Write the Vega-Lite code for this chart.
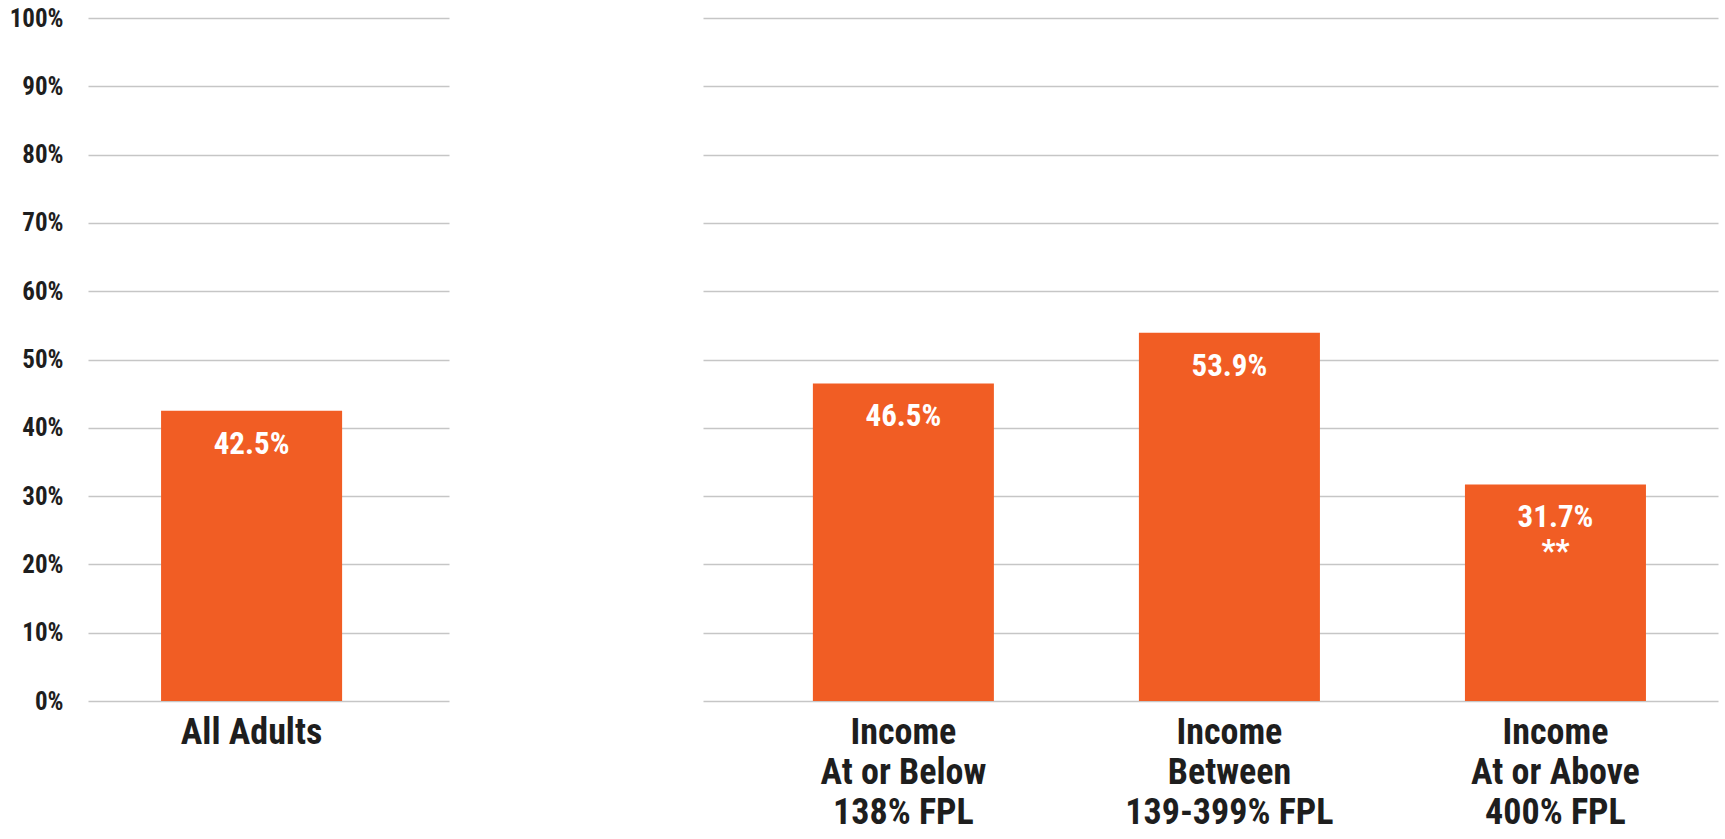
{
  "$schema": "https://vega.github.io/schema/vega-lite/v6.json",
  "padding": {"top": 6, "left": 5, "right": 2, "bottom": 4},
  "background": "white",
  "config": {
    "view": {"stroke": null},
    "font": "Liberation Sans Narrow, Arial Narrow, Roboto Condensed, Liberation Sans, sans-serif"
  },
  "spacing": 254,
  "hconcat": [
    {
      "width": 361,
      "height": 683,
      "data": {"values": [
        {"group": "All Adults", "value": 42.5, "label": "42.5%"}
      ]},
      "encoding": {
        "x": {"field": "group", "type": "nominal", "sort": null,
          "scale": {"paddingInner": 0, "paddingOuter": 0.497, "align": 0.406},
          "axis": {"title": null, "labelAngle": 0, "domain": false, "ticks": false,
            "labelFontSize": 36, "labelFontWeight": "bold", "labelColor": "#1e1e1e",
            "labelPadding": 14, "labelBaseline": "top", "labelLineHeight": 40, "labelLimit": 600,
            "labelExpr": "split(datum.label, '|')"}},
        "y": {"field": "value", "type": "quantitative",
          "scale": {"domain": [0, 100], "nice": false},
          "axis": {"title": null, "values": [0,10,20,30,40,50,60,70,80,90,100],
            "labelExpr": "datum.value + '%'", "grid": true, "gridColor": "#c6c6c6", "gridWidth": 1.5,
            "domain": false, "ticks": false, "labelFontSize": 25, "labelFontWeight": "bold",
            "labelColor": "#1e1e1e", "labelPadding": 25, "minExtent": 83, "maxExtent": 83}}
      },
      "layer": [
        {"mark": {"type": "bar", "color": "#F15D24"}},
        {"mark": {"type": "text", "color": "white", "fontSize": 31, "fontWeight": "bold",
          "baseline": "alphabetic", "dy": 43, "lineBreak": "|", "lineHeight": 34},
         "encoding": {"text": {"field": "label", "type": "nominal"}}}
      ]
    },
    {
      "width": 1015,
      "height": 683,
      "data": {"values": [
        {"group": "Income|At or Below|138% FPL", "value": 46.5, "label": "46.5%"},
        {"group": "Income|Between|139-399% FPL", "value": 53.9, "label": "53.9%"},
        {"group": "Income|At or Above|400% FPL", "value": 31.7, "label": "31.7%|**"}
      ]},
      "encoding": {
        "x": {"field": "group", "type": "nominal", "sort": null,
          "scale": {"paddingInner": 0.4448, "paddingOuter": 0.279, "align": 0.604},
          "axis": {"title": null, "labelAngle": 0, "domain": false, "ticks": false,
            "labelFontSize": 36, "labelFontWeight": "bold", "labelColor": "#1e1e1e",
            "labelPadding": 14, "labelBaseline": "top", "labelLineHeight": 40, "labelLimit": 600,
            "labelExpr": "split(datum.label, '|')"}},
        "y": {"field": "value", "type": "quantitative",
          "scale": {"domain": [0, 100], "nice": false},
          "axis": {"title": null, "values": [0,10,20,30,40,50,60,70,80,90,100],
            "labels": false, "grid": true, "gridColor": "#c6c6c6", "gridWidth": 1.5,
            "domain": false, "ticks": false, "minExtent": 0, "maxExtent": 0}}
      },
      "layer": [
        {"mark": {"type": "bar", "color": "#F15D24"}},
        {"mark": {"type": "text", "color": "white", "fontSize": 31, "fontWeight": "bold",
          "baseline": "alphabetic", "dy": 43, "lineBreak": "|", "lineHeight": 34},
         "encoding": {"text": {"field": "label", "type": "nominal"}}}
      ]
    }
  ]
}
